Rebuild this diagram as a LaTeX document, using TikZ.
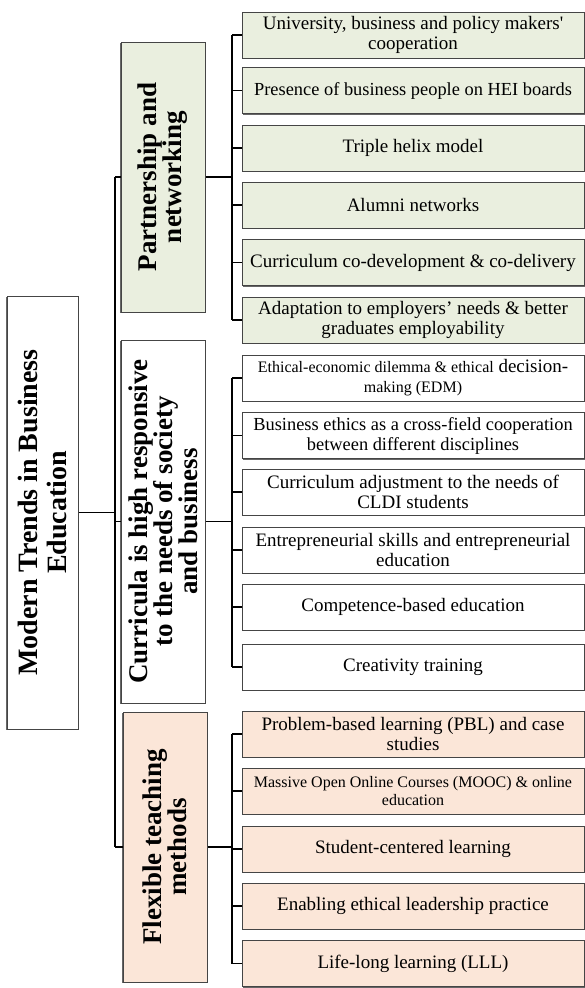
\documentclass[tikz,border=0pt]{standalone}
\usepackage{fontspec}
\setmainfont{Liberation Serif}
\usetikzlibrary{shadows}
\definecolor{grn}{HTML}{EAEFDF}
\definecolor{pch}{HTML}{FBE6D8}
\definecolor{edgec}{HTML}{454545}
\begin{document}
\begin{tikzpicture}[x=1pt,y=-1pt,
  box/.style={draw=edgec, line width=1pt, inner sep=2pt,
    drop shadow={shadow xshift=0.6pt, shadow yshift=-1.4pt, fill=black!60, opacity=1}},
  leaf/.style={box, minimum width=342pt, minimum height=46pt, inner xsep=1pt,
    align=center, font=\fontsize{19}{20}\selectfont},
  narrow/.style={font=\fontsize{18.4}{20}\selectfont},
  catbox/.style={draw=edgec, line width=1pt, inner sep=2pt, rotate=90,
    drop shadow={shadow xshift=-1.4pt, shadow yshift=-0.6pt, fill=black!60, opacity=1},
    minimum height=84pt, align=center, font=\bfseries\fontsize{27}{25}\selectfont},
  conn/.style={line width=1.6pt, black}
]
\useasboundingbox (0,0) rectangle (585,988);

% root
\node[catbox, fill=white, minimum width=433pt, minimum height=71pt,
  font=\bfseries\fontsize{28}{29}\selectfont] (root) at (42.5,512.5)
  {Modern Trends in Business\\Education};

% categories
\node[catbox, fill=grn, minimum width=270pt] (P) at (163,177)
  {Partnership and\\networking};
\node[catbox, fill=white, minimum width=363pt] (C) at (163,521.5)
  {Curricula is high responsive\\to the needs of society\\and business};
\node[catbox, fill=pch, minimum width=270pt] (F) at (165,847)
  {Flexible teaching\\methods};

% group 1
\node[leaf, fill=grn] (l11) at (413,35) {University, business and policy makers\textquotesingle\\cooperation};
\node[leaf, narrow, fill=grn] (l12) at (413,90.5) {Presence of business people on HEI boards};
\node[leaf, fill=grn] (l13) at (413,148) {Triple helix model};
\node[leaf, fill=grn] (l14) at (413,205) {Alumni networks};
\node[leaf, fill=grn] (l15) at (413,262.5) {Curriculum co-development \& co-delivery};
\node[leaf, fill=grn] (l16) at (413,320) {Adaptation to employers’ needs \& better\\graduates employability};

% group 2
\node[leaf, fill=white] (l21) at (413,378) {{\fontsize{16}{18}\selectfont Ethical-economic dilemma \& ethical} decision-\\{\fontsize{16}{18}\selectfont making (EDM)}};
\node[leaf, narrow, fill=white] (l22) at (413,435.5) {Business ethics as a cross-field cooperation\\between different disciplines};
\node[leaf, fill=white] (l23) at (413,492) {Curriculum adjustment to the needs of\\CLDI students};
\node[leaf, fill=white] (l24) at (413,550) {Entrepreneurial skills and entrepreneurial\\education};
\node[leaf, fill=white] (l25) at (413,607) {Competence-based education};
\node[leaf, fill=white] (l26) at (413,667) {Creativity training};

% group 3
\node[leaf, fill=pch] (l31) at (413,734) {Problem-based learning (PBL) and case\\studies};
\node[leaf, fill=pch, font=\fontsize{16}{18}\selectfont] (l32) at (413,791) {Massive Open Online Courses (MOOC) \& online\\education};
\node[leaf, fill=pch] (l33) at (413,849) {Student-centered learning};
\node[leaf, fill=pch] (l34) at (413,906) {Enabling ethical leadership practice};
\node[leaf, fill=pch] (l35) at (413,963.5) {Life-long learning (LLL)};

% trunk
\coordinate (tP) at (115,177);
\coordinate (tC) at (115,521.5);
\coordinate (tF) at (115,847);
\draw[conn] (tP) -- (tF);
\draw[conn] (root.south) -- (root.south -| tP);
\draw[conn] (tP) -- (P.north);
\draw[conn] (tC) -- (C.north);
\draw[conn] (tF) -- (F.north);

% buses
\coordinate (bP) at (232,177);
\coordinate (bC) at (232,521.5);
\coordinate (bF) at (232,847);
\draw[conn] (P.south) -- (bP);
\draw[conn] (C.south) -- (bC);
\draw[conn] (F.south) -- (bF);
\draw[conn] (l11.west -| bP) -- (l16.west -| bP);
\draw[conn] (l21.west -| bC) -- (l26.west -| bC);
\draw[conn] (l31.west -| bF) -- (l35.west -| bF);
\foreach \n in {l11,l12,l13,l14,l15,l16}{\draw[conn] (\n.west -| bP) -- (\n.west);}
\foreach \n in {l21,l22,l23,l24,l25,l26}{\draw[conn] (\n.west -| bC) -- (\n.west);}
\foreach \n in {l31,l32,l33,l34,l35}{\draw[conn] (\n.west -| bF) -- (\n.west);}
\end{tikzpicture}
\end{document}
